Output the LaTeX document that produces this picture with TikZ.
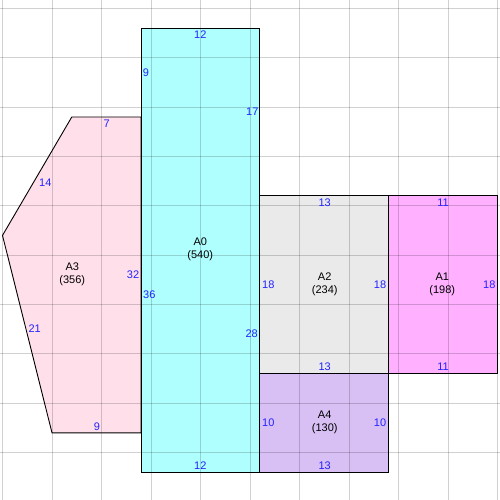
\documentclass[tikz,border=0pt]{standalone}
\usepackage{fontspec}
\setmainfont{Liberation Sans}
\definecolor{gridc}{HTML}{D2D2D2}
\definecolor{cyanf}{HTML}{B0FFFF}
\definecolor{pinkf}{HTML}{FFE0EA}
\definecolor{magf}{HTML}{FFB0FF}
\definecolor{grayf}{HTML}{EAEAEA}
\definecolor{lavf}{HTML}{D8C0F4}
\definecolor{dimc}{HTML}{2222FF}
\begin{document}
\begin{tikzpicture}[x=1pt,y=-1pt,
  piece/.style={draw=black,line width=0.9pt,line join=miter},
  dimlbl/.style={text=dimc,font=\fontsize{11}{12.5}\selectfont,inner sep=0pt},
  arealbl/.style={text=black,font=\fontsize{11}{12.5}\selectfont,align=center,inner sep=0pt}]
\useasboundingbox (0,0) rectangle (500,500);
\fill[white] (0,0) rectangle (500,500);
\clip (0,0) rectangle (500,500);
\begin{scope}[shift={(2.5,8.4)},x=9.9pt,y=-9.87pt]
  % fills
  \fill[cyanf] (14,2) rectangle (26,47);
  \fill[pinkf] (7,11) -- (14,11) -- (14,43) -- (5,43) -- (0,23) -- cycle;
  \fill[grayf] (26,19) rectangle (39,37);
  \fill[magf] (39,19) rectangle (50,37);
  \fill[lavf] (26,37) rectangle (39,47);
  % grid
  \foreach \gx in {0,5,...,50} \draw[black,opacity=0.18,line width=0.8pt] (\gx,-2) -- (\gx,52);
  \foreach \gy in {0,5,...,50} \draw[black,opacity=0.18,line width=0.8pt] (-2,\gy) -- (52,\gy);
  % outlines
  \draw[piece] (7,11) -- (14,11) -- (14,43) -- (5,43) -- (0,23) -- cycle;
  \draw[piece] (14,2) rectangle (26,47);
  \draw[piece] (26,19) rectangle (39,37);
  \draw[piece] (39,19) rectangle (50,37);
  \draw[piece] (26,37) rectangle (39,47);
\end{scope}
% A0
\node[dimlbl] (a0t) at (200.3,35) {12};
\node[dimlbl] (a0l1) at (146,73) {9};
\node[dimlbl] (a0r1) at (252.3,112) {17};
\node[arealbl] (a0) at (200.3,249.5) {A0\\(540)};
\node[dimlbl] (a0l2) at (149.3,295) {36};
\node[dimlbl] (a0r2) at (251.7,333.3) {28};
\node[dimlbl] (a0b) at (200.3,466) {12};
% A3
\node[dimlbl] (a3t) at (106.7,124) {7};
\node[dimlbl] (a3s1) at (45.3,183) {14};
\node[arealbl] (a3) at (72.3,274.3) {A3\\(356)};
\node[dimlbl] (a3r) at (133,275) {32};
\node[dimlbl] (a3s2) at (34.7,328.3) {21};
\node[dimlbl] (a3b) at (97,427) {9};
% A2
\node[dimlbl] (a2t) at (324.7,203) {13};
\node[dimlbl] (a2l) at (268.3,285) {18};
\node[arealbl] (a2) at (324.7,284.2) {A2\\(234)};
\node[dimlbl] (a2r) at (380,285) {18};
\node[dimlbl] (a2b) at (324.7,367) {13};
% A1
\node[dimlbl] (a1t) at (443,203) {11};
\node[arealbl] (a1) at (442.3,284.2) {A1\\(198)};
\node[dimlbl] (a1r) at (489.3,285) {18};
\node[dimlbl] (a1b) at (443,367) {11};
% A4
\node[dimlbl] (a4l) at (268.3,423) {10};
\node[arealbl] (a4) at (324.7,422.3) {A4\\(130)};
\node[dimlbl] (a4r) at (380,423) {10};
\node[dimlbl] (a4b) at (324.7,466) {13};
\end{tikzpicture}
\end{document}
